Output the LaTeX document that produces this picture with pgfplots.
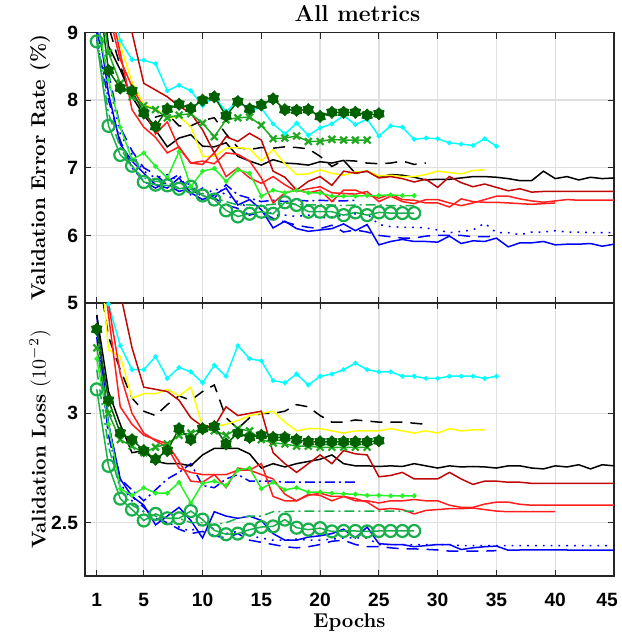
\documentclass[border=0pt]{standalone}
\usepackage{fontspec}
\usepackage{pgfplots}
\pgfplotsset{compat=1.18}
\newfontfamily\tickfont{Liberation Sans}
\definecolor{dgreen}{rgb}{0,0.38,0}
\definecolor{xgreen}{rgb}{0.13,0.66,0.13}
\definecolor{lgreen}{rgb}{0.15,0.95,0.15}
\definecolor{cgreen}{rgb}{0.1,0.69,0.3}
\definecolor{dred}{rgb}{0.75,0.03,0.03}
\definecolor{mred}{rgb}{1,0.12,0.12}
\definecolor{sred}{rgb}{0.95,0.42,0.42}
\definecolor{mcyan}{rgb}{0,1,1}
\definecolor{myellow}{rgb}{1,1,0}
\pgfdeclareplotmark{hexagram}{%
  \pgfpathmoveto{\pgfqpointpolar{90}{\pgfplotmarksize}}%
  \pgfpathlineto{\pgfqpointpolar{120}{0.72\pgfplotmarksize}}%
  \pgfpathlineto{\pgfqpointpolar{150}{\pgfplotmarksize}}%
  \pgfpathlineto{\pgfqpointpolar{180}{0.72\pgfplotmarksize}}%
  \pgfpathlineto{\pgfqpointpolar{210}{\pgfplotmarksize}}%
  \pgfpathlineto{\pgfqpointpolar{240}{0.72\pgfplotmarksize}}%
  \pgfpathlineto{\pgfqpointpolar{270}{\pgfplotmarksize}}%
  \pgfpathlineto{\pgfqpointpolar{300}{0.72\pgfplotmarksize}}%
  \pgfpathlineto{\pgfqpointpolar{330}{\pgfplotmarksize}}%
  \pgfpathlineto{\pgfqpointpolar{0}{0.72\pgfplotmarksize}}%
  \pgfpathlineto{\pgfqpointpolar{30}{\pgfplotmarksize}}%
  \pgfpathlineto{\pgfqpointpolar{60}{0.72\pgfplotmarksize}}%
  \pgfpathclose
  \pgfusepathqfillstroke
}
\pgfplotsset{
  panel/.style={
    width=264.5pt, scale only axis, xmin=0, xmax=45,
    xtick={1,5,10,15,20,25,30,35,40,45},
    grid=major, major grid style={black!12, line width=0.7pt},
    tick align=inside, major tick length=3pt,
    axis line style={line width=0.7pt, black!85},
    tick style={black!85, line width=0.6pt},
    ticklabel style={font=\tickfont\bfseries\fontsize{9.6}{11}\selectfont},
    /pgf/number format/assume math mode=true,
    every axis y label/.style={at={(axis description cs:-0.085,0.5)}, rotate=90, anchor=center, font=\bfseries\fontsize{10}{12}\selectfont},
    every axis plot/.append style={line width=0.75pt},
  },
  scyan/.style={mcyan, mark=*, mark size=0.8pt},
  sstar/.style={dgreen, mark=hexagram, mark size=3pt, mark options={fill=dgreen, draw=dgreen, solid, line width=0.4pt}},
  sx/.style={xgreen, mark=x, mark size=2.4pt, mark options={line width=1.1pt}},
  sbdash/.style={black, dash pattern=on 6pt off 4pt},
  sblack/.style={black},
  syellow/.style={myellow},
  sdred/.style={dred},
  sred/.style={mred},
  ssred/.style={sred},
  slime/.style={lgreen, mark=*, mark size=0.8pt},
  sgdd/.style={cgreen, dash pattern=on 5pt off 2pt on 1pt off 2pt},
  scirc/.style={cgreen, mark=o, mark size=3pt, mark options={line width=1.1pt, solid}},
  sblue/.style={blue},
  sbdot/.style={blue, dash pattern=on 0.9pt off 3pt},
  sbdsh/.style={blue, dash pattern=on 6pt off 4pt},
  sbdd/.style={blue, dash pattern=on 5pt off 2pt on 1pt off 2pt},
}
\begin{document}
\begin{tikzpicture}
\path[use as bounding box] (-42.5pt,16.3pt) rectangle (268pt,-303.7pt);
\begin{axis}[panel, name=top, at={(0,0)}, anchor=north west, height=135.2pt,
  ymin=5, ymax=9, ytick={5,6,7,8,9}, xticklabels={},
  ylabel={Validation Error Rate (\%)},
  title={All metrics},
  title style={at={(axis description cs:0.5,1)}, anchor=center, yshift=3.3pt, xshift=4pt, font=\bfseries\fontsize{11.5}{13}\selectfont}]
\addplot[sblue] coordinates {(1,9.3)(2,8.1)(3,7.35)(4,7.1)(5,6.92)(6,6.75)(7,6.7)(8,6.85)(9,6.63)(10,6.53)(11,6.6)(12,6.7)(13,6.45)(14,6.53)(15,6.38)(16,6.11)(17,6.21)(18,6.1)(19,6.06)(20,6.08)(21,6.10)(22,6.17)(23,6.07)(24,6.16)(25,5.86)(26,5.91)(27,5.94)(28,5.91)(29,5.91)(30,5.90)(31,5.99)(32,5.88)(33,5.92)(34,5.91)(35,5.96)(36,5.83)(37,5.89)(38,5.89)(39,5.91)(40,5.86)(41,5.87)(42,5.87)(43,5.88)(44,5.84)(45,5.87)};
\addplot[sbdot] coordinates {(1,9.1)(2,8.3)(3,7.5)(4,7.2)(5,6.95)(6,6.85)(7,6.9)(8,6.8)(9,6.75)(10,6.55)(11,6.7)(12,6.6)(13,6.5)(14,6.4)(15,6.45)(16,6.3)(17,6.3)(18,6.28)(19,6.3)(20,6.26)(21,6.27)(22,6.3)(23,6.32)(24,6.32)(25,6.16)(26,6.13)(27,6.12)(28,6.12)(29,6.11)(30,6.08)(31,6.04)(32,6.06)(33,6.08)(34,6.18)(35,6.04)(36,6.04)(37,6.01)(38,6.05)(39,6.05)(40,6.07)(41,6.05)(42,6.05)(43,6.04)(44,6.04)(45,6.04)};
\addplot[sbdsh] coordinates {(1,9.0)(2,8.4)(3,7.6)(4,7.25)(5,7.0)(6,6.9)(7,6.75)(8,6.65)(9,6.7)(10,6.6)(11,6.55)(12,6.45)(13,6.4)(14,6.3)(15,6.35)(16,6.25)(17,6.2)(18,6.15)(19,6.12)(20,6.1)(21,6.15)(22,6.05)(23,6.08)(24,6.05)(25,6.0)(26,5.98)(27,5.96)(28,5.96)(29,5.99)(30,6.0)(31,6.0)(32,6.0)(33,5.98)(34,5.98)(35,5.99)};
\addplot[sbdd] coordinates {(1,8.9)(2,8.0)(3,7.4)(4,7.0)(5,6.8)(6,6.7)(7,6.8)(8,6.9)(9,6.6)(10,6.7)(11,6.55)(12,6.75)(13,6.6)(14,6.55)(15,6.5)(16,6.52)(17,6.5)(18,6.52)(19,6.51)(20,6.52)(21,6.51)(22,6.51)(23,6.52)};
\addplot[scyan] coordinates {(1,10.8)(2,9.6)(3,8.88)(4,8.6)(5,8.59)(6,8.54)(7,8.14)(8,8.22)(9,8.14)(10,7.92)(11,8.05)(12,7.83)(13,7.99)(14,7.86)(15,7.88)(16,7.65)(17,7.50)(18,7.66)(19,7.48)(20,7.59)(21,7.65)(22,7.77)(23,7.64)(24,7.72)(25,7.47)(26,7.62)(27,7.60)(28,7.42)(29,7.44)(30,7.43)(31,7.37)(32,7.35)(33,7.33)(34,7.43)(35,7.32)};
\addplot[sbdash] coordinates {(1,10.5)(2,9.1)(3,8.5)(4,8.1)(5,7.9)(6,7.75)(7,7.8)(8,7.62)(9,7.62)(10,7.7)(11,7.74)(12,7.5)(13,7.3)(14,7.27)(15,7.3)(16,7.29)(17,7.31)(18,7.3)(19,7.28)(20,7.17)(21,7.02)(22,7.11)(23,7.1)(24,7.07)(25,7.06)(26,7.07)(27,7.1)(28,7.05)(29,7.07)};
\addplot[sblack] coordinates {(1,10.2)(2,8.8)(3,8.45)(4,8.05)(5,7.78)(6,7.56)(7,7.31)(8,7.44)(9,7.49)(10,7.32)(11,7.31)(12,7.37)(13,7.17)(14,7.1)(15,7.04)(16,7.12)(17,7.07)(18,7.06)(19,7.04)(20,7.09)(21,7.07)(22,7.11)(23,6.92)(24,6.95)(25,6.86)(26,6.90)(27,6.89)(28,6.86)(29,6.82)(30,6.83)(31,6.83)(32,6.85)(33,6.87)(34,6.87)(35,6.86)(36,6.84)(37,6.81)(38,6.81)(39,6.95)(40,6.84)(41,6.87)(42,6.82)(43,6.86)(44,6.84)(45,6.85)};
\addplot[syellow] coordinates {(1,10.6)(2,9.3)(3,8.82)(4,8.27)(5,7.93)(6,7.88)(7,7.73)(8,7.76)(9,7.61)(10,7.17)(11,7.17)(12,7.29)(13,7.30)(14,7.28)(15,7.1)(16,7.27)(17,7.06)(18,6.90)(19,6.91)(20,6.97)(21,6.92)(22,6.89)(23,6.94)(24,6.95)(25,6.88)(26,6.89)(27,6.87)(28,6.87)(29,6.90)(30,6.95)(31,6.93)(32,6.91)(33,6.96)(34,6.97)};
\addplot[sdred] coordinates {(1,12)(2,10.5)(3,9.6)(4,9.0)(5,8.25)(6,8.15)(7,8.05)(8,7.91)(9,7.81)(10,7.56)(11,7.22)(12,7.46)(13,7.39)(14,7.51)(15,7.41)(16,6.95)(17,6.86)(18,6.67)(19,6.80)(20,6.87)(21,6.74)(22,6.95)(23,6.92)(24,6.95)(25,6.85)(26,6.87)(27,6.84)(28,6.79)(29,6.83)(30,6.71)(31,6.87)(32,6.78)(33,6.72)(34,6.76)(35,6.71)(36,6.66)(37,6.69)(38,6.64)(39,6.65)(40,6.65)(41,6.65)(42,6.65)(43,6.65)(44,6.65)(45,6.65)};
\addplot[sred] coordinates {(1,11)(2,9.5)(3,8.7)(4,7.86)(5,7.6)(6,7.45)(7,7.22)(8,7.31)(9,7.07)(10,7.05)(11,7.22)(12,6.87)(13,7.0)(14,6.85)(15,6.77)(16,6.87)(17,6.75)(18,6.65)(19,6.69)(20,6.72)(21,6.63)(22,6.62)(23,6.61)(24,6.65)(25,6.50)(26,6.58)(27,6.50)(28,6.47)(29,6.53)(30,6.53)(31,6.48)(32,6.44)(33,6.48)(34,6.53)(35,6.58)(36,6.58)(37,6.54)(38,6.51)(39,6.49)(40,6.51)(41,6.53)(42,6.52)(43,6.52)(44,6.52)(45,6.52)};
\addplot[ssred] coordinates {(1,10.5)(2,9.3)(3,8.6)(4,8.2)(5,7.88)(6,7.5)(7,7.68)(8,7.29)(9,7.07)(10,7.1)(11,7.06)(12,7.22)(13,7.2)(14,7.1)(15,6.85)(16,6.48)(17,6.63)(18,6.67)(19,6.63)(20,6.67)(21,6.50)(22,6.67)(23,6.67)(24,6.60)(25,6.55)(26,6.61)(27,6.53)(28,6.52)(29,6.48)(30,6.48)(31,6.42)(32,6.54)(33,6.50)(34,6.49)(35,6.49)(36,6.48)(37,6.47)(38,6.46)(39,6.47)(40,6.48)};
\addplot[slime] coordinates {(1,9.2)(2,8.3)(3,7.6)(4,7.12)(5,7.22)(6,7.02)(7,6.85)(8,7.24)(9,6.72)(10,6.95)(11,6.99)(12,6.80)(13,6.97)(14,6.92)(15,6.58)(16,6.67)(17,6.63)(18,6.67)(19,6.63)(20,6.63)(21,6.58)(22,6.58)(23,6.58)(24,6.59)(25,6.59)(26,6.60)(27,6.59)(28,6.59)};
\addplot[sgdd] coordinates {(1,8.95)(2,7.8)(3,7.3)(4,7.0)(5,6.85)(6,6.8)(7,6.78)(8,6.7)(9,6.68)(10,6.62)(11,6.55)(12,6.5)(13,6.45)(14,6.45)(15,6.44)(16,6.46)(17,6.48)(18,6.46)(19,6.45)(20,6.45)(21,6.45)(22,6.44)(23,6.45)(24,6.45)(25,6.45)(26,6.44)(27,6.44)(28,6.44)};
\addplot[sx] coordinates {(1,9.9)(2,8.7)(3,8.25)(4,8.05)(5,7.92)(6,7.86)(7,7.74)(8,7.78)(9,7.80)(10,7.66)(11,7.46)(12,7.71)(13,7.74)(14,7.75)(15,7.63)(16,7.43)(17,7.44)(18,7.47)(19,7.39)(20,7.39)(21,7.42)(22,7.41)(23,7.41)(24,7.41)};
\addplot[sstar] coordinates {(1,9.8)(2,8.44)(3,8.18)(4,8.14)(5,7.81)(6,7.61)(7,7.87)(8,7.94)(9,7.88)(10,8.0)(11,8.05)(12,7.77)(13,7.98)(14,7.87)(15,7.93)(16,8.02)(17,7.86)(18,7.85)(19,7.86)(20,7.76)(21,7.82)(22,7.82)(23,7.82)(24,7.78)(25,7.80)};
\addplot[scirc] coordinates {(1,8.87)(2,7.62)(3,7.19)(4,7.03)(5,6.79)(6,6.75)(7,6.74)(8,6.69)(9,6.72)(10,6.59)(11,6.53)(12,6.37)(13,6.28)(14,6.32)(15,6.35)(16,6.32)(17,6.49)(18,6.45)(19,6.35)(20,6.35)(21,6.35)(22,6.30)(23,6.34)(24,6.30)(25,6.34)(26,6.33)(27,6.33)(28,6.33)};
\end{axis}
\begin{axis}[panel, name=bot, at={(0,-135.2pt)}, anchor=north west, height=136.5pt,
  ymin=2.256, ymax=3.505, ytick={2.5,3}, yticklabels={2.5,3},
  xticklabels={1,5,10,15,20,25,30,35,40,\kern-3.5pt 45\kern3.5pt},
  xticklabel style={yshift=-5pt},
  ylabel={Validation Loss {\mdseries($10^{-2}$)}},
  xlabel={Epochs},
  xlabel style={at={(axis description cs:0.5,0)}, anchor=center, yshift=-23pt, font=\bfseries\fontsize{10}{12}\selectfont}]
\addplot[sblue] coordinates {(1,3.45)(2,2.95)(3,2.70)(4,2.62)(5,2.58)(6,2.49)(7,2.53)(8,2.57)(9,2.51)(10,2.43)(11,2.55)(12,2.53)(13,2.52)(14,2.53)(15,2.51)(16,2.45)(17,2.42)(18,2.42)(19,2.434)(20,2.44)(21,2.45)(22,2.47)(23,2.43)(24,2.48)(25,2.404)(26,2.40)(27,2.40)(28,2.39)(29,2.395)(30,2.40)(31,2.40)(32,2.377)(33,2.385)(34,2.39)(35,2.393)(36,2.374)(37,2.375)(38,2.375)(39,2.375)(40,2.375)(41,2.375)(42,2.374)(43,2.374)(44,2.374)(45,2.374)};
\addplot[sbdot] coordinates {(1,3.4)(2,2.9)(3,2.68)(4,2.6)(5,2.55)(6,2.52)(7,2.5)(8,2.48)(9,2.46)(10,2.5)(11,2.47)(12,2.45)(13,2.46)(14,2.44)(15,2.43)(16,2.42)(17,2.42)(18,2.425)(19,2.42)(20,2.42)(21,2.425)(22,2.43)(23,2.43)(24,2.43)(25,2.40)(26,2.40)(27,2.40)(28,2.40)(29,2.40)(30,2.40)(31,2.40)(32,2.395)(33,2.395)(34,2.395)(35,2.395)(36,2.395)(37,2.395)(38,2.395)(39,2.395)(40,2.395)(41,2.395)(42,2.395)(43,2.395)(44,2.395)(45,2.395)};
\addplot[sbdsh] coordinates {(1,3.35)(2,2.9)(3,2.66)(4,2.62)(5,2.57)(6,2.52)(7,2.5)(8,2.47)(9,2.45)(10,2.46)(11,2.44)(12,2.43)(13,2.45)(14,2.42)(15,2.41)(16,2.40)(17,2.39)(18,2.385)(19,2.39)(20,2.40)(21,2.415)(22,2.42)(23,2.40)(24,2.39)(25,2.39)(26,2.385)(27,2.38)(28,2.38)(29,2.378)(30,2.375)(31,2.37)(32,2.37)(33,2.37)(34,2.37)(35,2.372)};
\addplot[sbdd] coordinates {(1,3.4)(2,2.95)(3,2.7)(4,2.65)(5,2.6)(6,2.65)(7,2.7)(8,2.73)(9,2.77)(10,2.67)(11,2.66)(12,2.7)(13,2.72)(14,2.69)(15,2.69)(16,2.69)(17,2.685)(18,2.685)(19,2.685)(20,2.685)(21,2.685)(22,2.685)(23,2.685)};
\addplot[scyan] coordinates {(1,3.9)(2,3.5)(3,3.31)(4,3.20)(5,3.20)(6,3.26)(7,3.16)(8,3.21)(9,3.19)(10,3.14)(11,3.22)(12,3.17)(13,3.31)(14,3.25)(15,3.24)(16,3.15)(17,3.14)(18,3.18)(19,3.13)(20,3.17)(21,3.18)(22,3.20)(23,3.23)(24,3.20)(25,3.19)(26,3.19)(27,3.17)(28,3.17)(29,3.16)(30,3.16)(31,3.17)(32,3.17)(33,3.17)(34,3.16)(35,3.17)};
\addplot[sbdash] coordinates {(1,3.7)(2,3.35)(3,3.2)(4,3.07)(5,3.01)(6,2.99)(7,3.04)(8,3.08)(9,3.06)(10,3.10)(11,3.13)(12,2.98)(13,2.93)(14,2.98)(15,3.0)(16,3.0)(17,3.01)(18,3.04)(19,3.03)(20,2.99)(21,2.96)(22,2.96)(23,2.97)(24,2.965)(25,2.96)(26,2.96)(27,2.96)(28,2.955)(29,2.95)};
\addplot[sblack] coordinates {(1,3.45)(2,3.1)(3,2.95)(4,2.82)(5,2.83)(6,2.78)(7,2.77)(8,2.77)(9,2.76)(10,2.81)(11,2.84)(12,2.84)(13,2.84)(14,2.815)(15,2.75)(16,2.77)(17,2.755)(18,2.77)(19,2.78)(20,2.79)(21,2.81)(22,2.77)(23,2.76)(24,2.76)(25,2.757)(26,2.76)(27,2.757)(28,2.77)(29,2.76)(30,2.75)(31,2.76)(32,2.755)(33,2.757)(34,2.755)(35,2.75)(36,2.76)(37,2.76)(38,2.75)(39,2.746)(40,2.76)(41,2.755)(42,2.765)(43,2.746)(44,2.765)(45,2.76)};
\addplot[syellow] coordinates {(1,3.9)(2,3.29)(3,3.26)(4,3.07)(5,3.09)(6,3.09)(7,3.11)(8,3.08)(9,3.12)(10,2.94)(11,2.94)(12,2.95)(13,2.967)(14,2.99)(15,3.0)(16,3.01)(17,2.96)(18,2.92)(19,2.93)(20,2.93)(21,2.92)(22,2.91)(23,2.92)(24,2.92)(25,2.92)(26,2.93)(27,2.92)(28,2.91)(29,2.92)(30,2.91)(31,2.93)(32,2.92)(33,2.925)(34,2.925)};
\addplot[sdred] coordinates {(1,4.2)(2,3.8)(3,3.55)(4,3.3)(5,3.12)(6,3.11)(7,3.10)(8,3.06)(9,2.98)(10,2.94)(11,2.94)(12,3.03)(13,2.99)(14,3.0)(15,3.01)(16,2.82)(17,2.77)(18,2.73)(19,2.77)(20,2.81)(21,2.77)(22,2.83)(23,2.815)(24,2.81)(25,2.71)(26,2.716)(27,2.73)(28,2.70)(29,2.70)(30,2.70)(31,2.73)(32,2.70)(33,2.675)(34,2.69)(35,2.69)(36,2.685)(37,2.685)(38,2.68)(39,2.68)(40,2.68)(41,2.68)(42,2.68)(43,2.68)(44,2.68)(45,2.68)};
\addplot[sred] coordinates {(1,4.0)(2,3.5)(3,3.18)(4,3.0)(5,2.91)(6,2.875)(7,2.845)(8,2.75)(9,2.73)(10,2.72)(11,2.72)(12,2.66)(13,2.75)(14,2.74)(15,2.72)(16,2.70)(17,2.63)(18,2.60)(19,2.625)(20,2.635)(21,2.62)(22,2.62)(23,2.60)(24,2.60)(25,2.59)(26,2.60)(27,2.60)(28,2.606)(29,2.60)(30,2.60)(31,2.58)(32,2.57)(33,2.57)(34,2.585)(35,2.594)(36,2.594)(37,2.584)(38,2.58)(39,2.58)(40,2.58)(41,2.58)(42,2.58)(43,2.58)(44,2.58)(45,2.58)};
\addplot[ssred] coordinates {(1,3.9)(2,3.45)(3,3.03)(4,2.95)(5,2.9)(6,2.88)(7,2.86)(8,2.78)(9,2.69)(10,2.685)(11,2.72)(12,2.72)(13,2.74)(14,2.74)(15,2.77)(16,2.62)(17,2.60)(18,2.60)(19,2.63)(20,2.625)(21,2.60)(22,2.62)(23,2.61)(24,2.594)(25,2.56)(26,2.565)(27,2.56)(28,2.54)(29,2.556)(30,2.56)(31,2.564)(32,2.564)(33,2.567)(34,2.56)(35,2.553)(36,2.55)(37,2.55)(38,2.55)(39,2.55)(40,2.55)};
\addplot[slime] coordinates {(1,3.25)(2,2.95)(3,2.655)(4,2.625)(5,2.66)(6,2.635)(7,2.635)(8,2.685)(9,2.59)(10,2.68)(11,2.69)(12,2.67)(13,2.74)(14,2.75)(15,2.655)(16,2.685)(17,2.65)(18,2.66)(19,2.64)(20,2.64)(21,2.635)(22,2.632)(23,2.63)(24,2.625)(25,2.625)(26,2.623)(27,2.623)(28,2.623)};
\addplot[sgdd] coordinates {(1,3.2)(2,2.85)(3,2.65)(4,2.58)(5,2.55)(6,2.53)(7,2.52)(8,2.52)(9,2.5)(10,2.5)(11,2.49)(12,2.5)(13,2.52)(14,2.53)(15,2.53)(16,2.55)(17,2.55)(18,2.553)(19,2.553)(20,2.553)(21,2.553)(22,2.553)(23,2.553)(24,2.553)(25,2.553)(26,2.553)(27,2.553)(28,2.553)};
\addplot[sx] coordinates {(1,3.3)(2,3.0)(3,2.88)(4,2.85)(5,2.82)(6,2.845)(7,2.86)(8,2.90)(9,2.91)(10,2.93)(11,2.92)(12,2.90)(13,2.93)(14,2.92)(15,2.88)(16,2.865)(17,2.86)(18,2.85)(19,2.85)(20,2.845)(21,2.845)(22,2.845)(23,2.845)(24,2.845)};
\addplot[sstar] coordinates {(1,3.385)(2,3.06)(3,2.91)(4,2.88)(5,2.83)(6,2.79)(7,2.83)(8,2.93)(9,2.88)(10,2.93)(11,2.94)(12,2.86)(13,2.91)(14,2.89)(15,2.90)(16,2.89)(17,2.89)(18,2.88)(19,2.87)(20,2.87)(21,2.87)(22,2.87)(23,2.87)(24,2.87)(25,2.875)};
\addplot[scirc] coordinates {(1,3.11)(2,2.76)(3,2.61)(4,2.56)(5,2.51)(6,2.54)(7,2.52)(8,2.52)(9,2.553)(10,2.514)(11,2.465)(12,2.447)(13,2.45)(14,2.468)(15,2.48)(16,2.483)(17,2.514)(18,2.477)(19,2.468)(20,2.475)(21,2.46)(22,2.462)(23,2.462)(24,2.46)(25,2.462)(26,2.462)(27,2.462)(28,2.462)};
\end{axis}
\end{tikzpicture}
\end{document}
